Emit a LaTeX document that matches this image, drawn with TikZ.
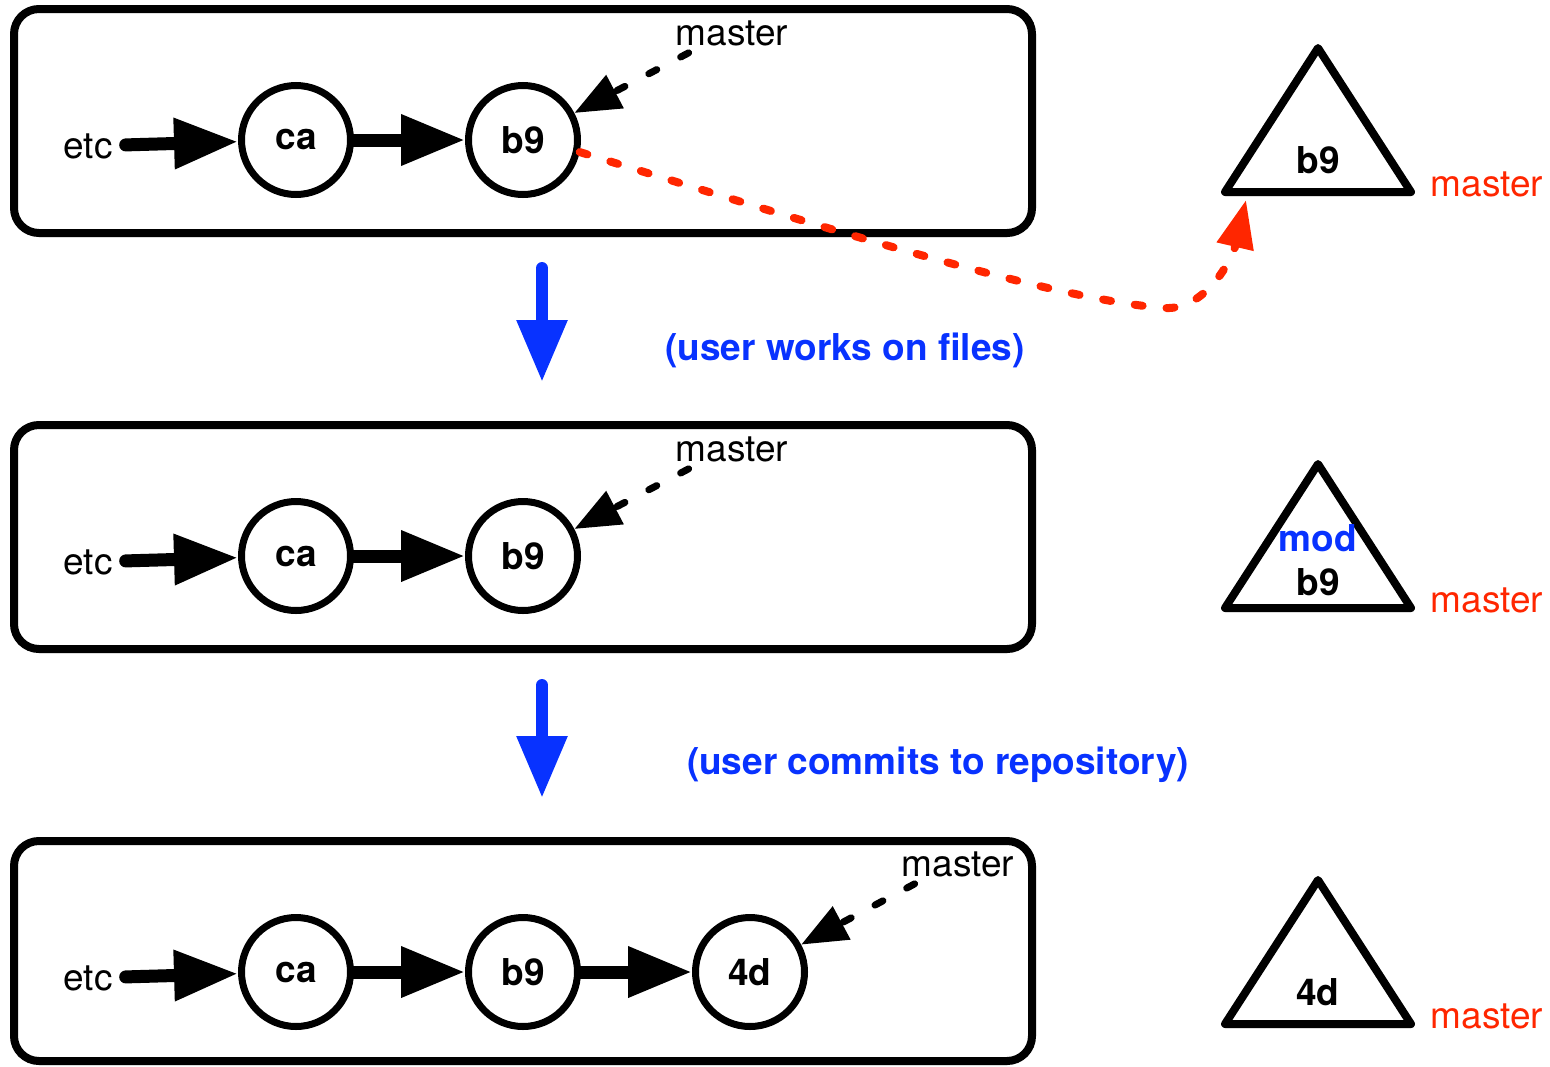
\documentclass[tikz,border=0pt]{standalone}
\usepackage{fontspec}
\setmainfont{TeX Gyre Heros}
\usetikzlibrary{arrows.meta,calc,shadows}
\definecolor{gitred}{RGB}{255,38,0}
\definecolor{gitblue}{RGB}{8,50,255}

\tikzset{
    stage/.style={draw,fill=white,line width=8pt,rounded corners=25pt,
        drop shadow={shadow xshift=1pt,shadow yshift=-4pt,opacity=0.25}},
    tree/.style={draw,fill=white,line width=8pt,line join=round,
        drop shadow={shadow xshift=1pt,shadow yshift=-4pt,opacity=0.25}},
    commit/.style={circle,draw,line width=7pt,minimum size=109pt,inner sep=0pt,
        font=\fontsize{37}{44}\selectfont\bfseries},
    label/.style={inner sep=1pt,font=\fontsize{37}{44}\selectfont},
    boldlabel/.style={inner sep=1pt,font=\fontsize{37}{44}\selectfont\bfseries},
    parent/.style={line width=13pt,line cap=round,-{Triangle[length=64pt,width=48pt]}},
    headref/.style={line width=7pt,line cap=round,dash pattern=on 9pt off 27pt,
        -{Triangle[length=46pt,width=36pt]}},
    checkout/.style={gitred,line width=8pt,line cap=round,dash pattern=on 8pt off 24pt,
        -{Triangle[length=48pt,width=36pt]}},
    stepdown/.style={gitblue,line width=12pt,line cap=round,-{Triangle[length=62pt,width=48pt]}}
}

\begin{document}
\begin{tikzpicture}[x=1pt,y=-1pt]

    \useasboundingbox (0,0) rectangle (1550,1066);

    % Repository boxes, one per stage. 416px apart.
    \path[stage] (14,9) rectangle (1032,233);
    \path[stage] (14,425) rectangle (1032,649);
    \path[stage] (14,841) rectangle (1032,1061);

    % Working tree triangles
    \path[tree] (1318,48) -- (1411,192) -- (1225,192) -- cycle;
    \path[tree] (1318,464) -- (1411,608) -- (1225,608) -- cycle;
    \path[tree] (1318,880) -- (1411,1024) -- (1225,1024) -- cycle;

    % First stage
    \node[label] (etc1) at (88,146) {etc};
    \node[commit] (ca1) at (296,140) {ca};
    \node[commit] (b91) at (523,140) {b9};
    \node[label] (m1) at (732,33) {master};
    \draw[parent,shorten <=12pt] (etc1) -- (ca1);
    \draw[parent] (ca1) -- (b91);
    \draw[headref] ($(m1.south west)+(14,6)$) -- (b91);

    \node[boldlabel] (t1) at (1318,160) {b9};
    \node[label,text=gitred] (r1) at (1487,184) {master};
    \coordinate (t1in) at (1246,200);
    \draw[checkout] (b91.-12) .. controls (800,220) and (1050,300) .. (1165,308)
        .. controls (1205,310) and (1232,260) .. (t1in);

    % user works on files
    \coordinate (s1top) at (542,268);
    \coordinate (s1bot) at (542,382);
    \draw[stepdown] (s1top) -- (s1bot);
    \node[boldlabel,text=gitblue] (n1) at (845,350) {(user works on files)};

    % Second stage
    \node[label] (etc2) at (88,562) {etc};
    \node[commit] (ca2) at (296,556) {ca};
    \node[commit] (b92) at (523,556) {b9};
    \node[label] (m2) at (732,449) {master};
    \draw[parent,shorten <=12pt] (etc2) -- (ca2);
    \draw[parent] (ca2) -- (b92);
    \draw[headref] ($(m2.south west)+(14,6)$) -- (b92);

    \node[boldlabel,text=gitblue] (mod2) at (1318,538) {mod};
    \node[boldlabel] (t2) at (1318,582) {b9};
    \node[label,text=gitred] (r2) at (1487,600) {master};

    % user commits to repository
    \coordinate (s2top) at (542,685);
    \coordinate (s2bot) at (542,798);
    \draw[stepdown] (s2top) -- (s2bot);
    \node[boldlabel,text=gitblue] (n2) at (938,765) {(user commits to repository)};

    % Third stage
    \node[label] (etc3) at (88,978) {etc};
    \node[commit] (ca3) at (296,972) {ca};
    \node[commit] (b93) at (523,972) {b9};
    \node[commit] (4d3) at (750,972) {4d};
    \node[label] (m3) at (958,864) {master};
    \draw[parent,shorten <=12pt] (etc3) -- (ca3);
    \draw[parent] (ca3) -- (b93);
    \draw[parent] (b93) -- (4d3);
    \draw[headref] ($(m3.south west)+(14,6)$) -- (4d3);

    \node[boldlabel] (t3) at (1318,992) {4d};
    \node[label,text=gitred] (r3) at (1487,1016) {master};

\end{tikzpicture}
\end{document}
